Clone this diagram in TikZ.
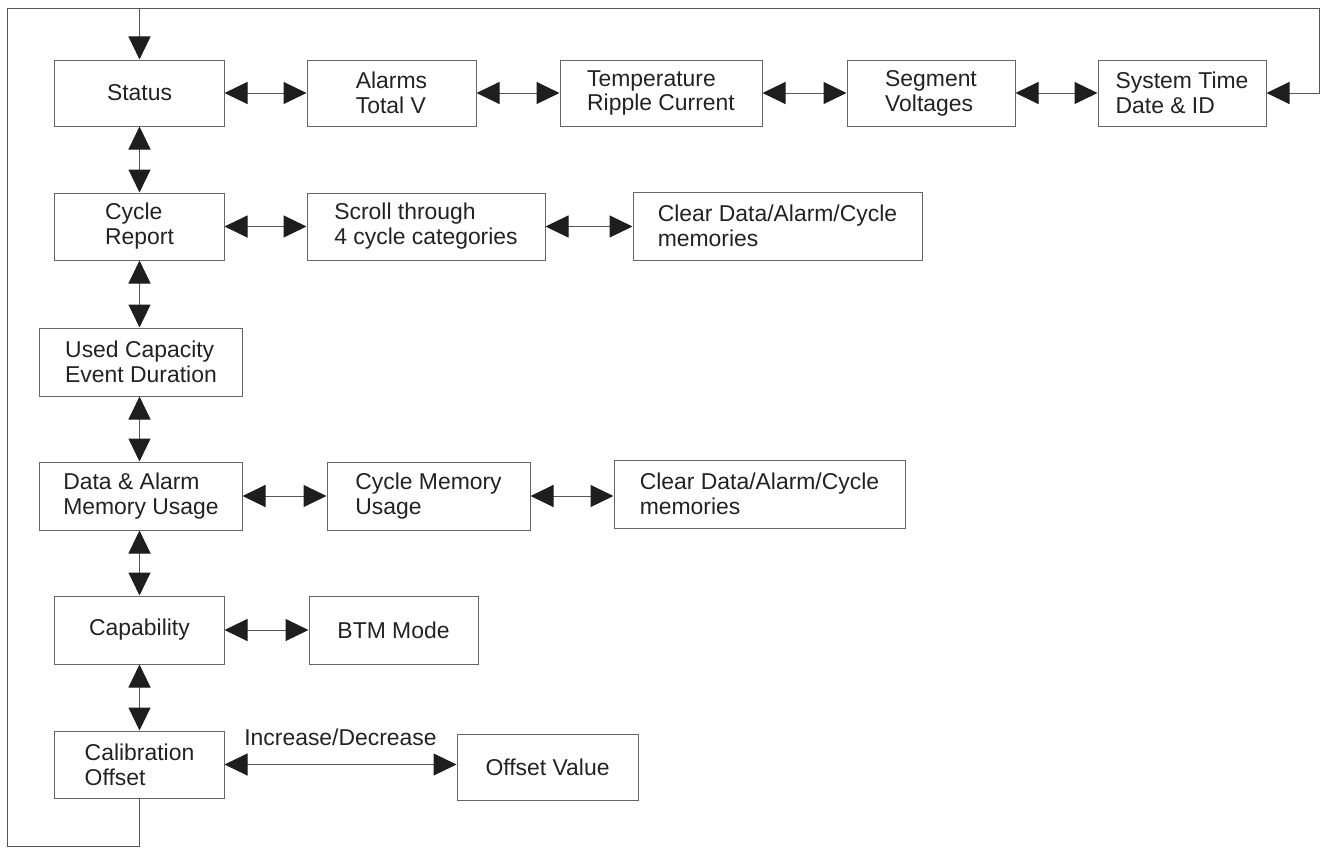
\documentclass[tikz,border=0pt]{standalone}
\usepackage{fontspec}
\setmainfont{Liberation Sans}
\usetikzlibrary{arrows.meta}
\definecolor{linec}{HTML}{555555}
\definecolor{boxc}{HTML}{666666}
\definecolor{headc}{HTML}{1E1E1E}
\definecolor{textc}{HTML}{222222}
\begin{document}
\begin{tikzpicture}[x=1bp,y=-1bp,
  box/.style={draw=boxc, line width=1bp, inner sep=0pt, align=left, text=textc,
              font=\fontsize{23}{25}\selectfont},
  conn/.style={draw=linec, line width=1bp},
  tip/.tip={Triangle[length=23bp,width=22bp,color=headc]},
  dbl/.style={conn, tip-tip},
  one/.style={conn, -tip},
  lbl/.style={text=textc, font=\fontsize{23}{25}\selectfont, inner sep=0pt}
]
\useasboundingbox (0,0) rectangle (1325,848);
% row 1
\node[box, minimum width=169bp, minimum height=66bp] (status) at (139.5,93) {Status};
\node[box, minimum width=169bp, minimum height=66bp] (alarms) at (391.5,93) {Alarms\\Total V};
\node[box, minimum width=202bp, minimum height=66bp] (temp) at (661,93) {Temperature\\Ripple Current};
\node[box, minimum width=168bp, minimum height=66bp] (seg) at (931,93) {Segment\\Voltages};
\node[box, minimum width=168bp, minimum height=66bp] (sys) at (1182,93) {System Time\\Date \& ID};
% row 2
\node[box, minimum width=169bp, minimum height=67bp] (cycle) at (139.5,226.5) {Cycle\\Report};
\node[box, minimum width=238bp, minimum height=67bp] (scroll) at (426,226.5) {Scroll through\\4 cycle categories};
\node[box, minimum width=289bp, minimum height=68bp] (clearA) at (777.5,226) {Clear Data/Alarm/Cycle\\memories};
% row 3
\node[box, minimum width=202bp, minimum height=68bp] (used) at (141,362) {Used Capacity\\Event Duration};
% row 4
\node[box, minimum width=202bp, minimum height=68bp] (data) at (141,496) {Data \& Alarm\\Memory Usage};
\node[box, minimum width=203bp, minimum height=68bp] (cmem) at (428.5,496) {Cycle Memory\\Usage};
\node[box, minimum width=291bp, minimum height=68bp] (clearB) at (759.5,494) {Clear Data/Alarm/Cycle\\memories};
% row 5
\node[box, minimum width=169bp, minimum height=68bp] (cap) at (139.5,630) {Capability};
\node[box, minimum width=169bp, minimum height=68bp] (btm) at (393.5,630) {BTM Mode};
% row 6
\node[box, minimum width=169bp, minimum height=67bp] (cal) at (139.5,764.5) {Calibration\\Offset};
\node[box, minimum width=181bp, minimum height=66bp] (off) at (547.5,767) {Offset Value};
% loop coordinates
\coordinate (tl) at (7,8);
\coordinate (tr) at (1319,8);
\coordinate (bl) at (7,846.5);
% horizontal connectors
\draw[dbl] (status.east) -- (status.east -| alarms.west);
\draw[dbl] (alarms.east) -- (alarms.east -| temp.west);
\draw[dbl] (temp.east) -- (temp.east -| seg.west);
\draw[dbl] (seg.east) -- (seg.east -| sys.west);
\draw[dbl] (cycle.east) -- (cycle.east -| scroll.west);
\draw[dbl] (scroll.east) -- (scroll.east -| clearA.west);
\draw[dbl] (data.east) -- (data.east -| cmem.west);
\draw[dbl] (cmem.east) -- (cmem.east -| clearB.west);
\draw[dbl] (cap.east) -- (cap.east -| btm.west);
\draw[dbl] (cal.east) -- (cal.east -| off.west)
  node[lbl, midway, anchor=base, yshift=19bp] (incdec) {Increase/Decrease};
% vertical connectors
\draw[dbl] (status.south) -- (status.south |- cycle.north);
\draw[dbl] (cycle.south) -- (cycle.south |- used.north);
\draw[dbl] (cycle.south |- used.south) -- (cycle.south |- data.north);
\draw[dbl] (cycle.south |- data.south) -- (cycle.south |- cap.north);
\draw[dbl] (cap.south) -- (cap.south |- cal.north);
% loop
\draw[one] (status.north |- tl) -- (status.north);
\draw[one] (cal.south) -- (cal.south |- bl) -- (bl) -- (tl) -- (tr) -- (tr |- sys.east) -- (sys.east);
\end{tikzpicture}
\end{document}
